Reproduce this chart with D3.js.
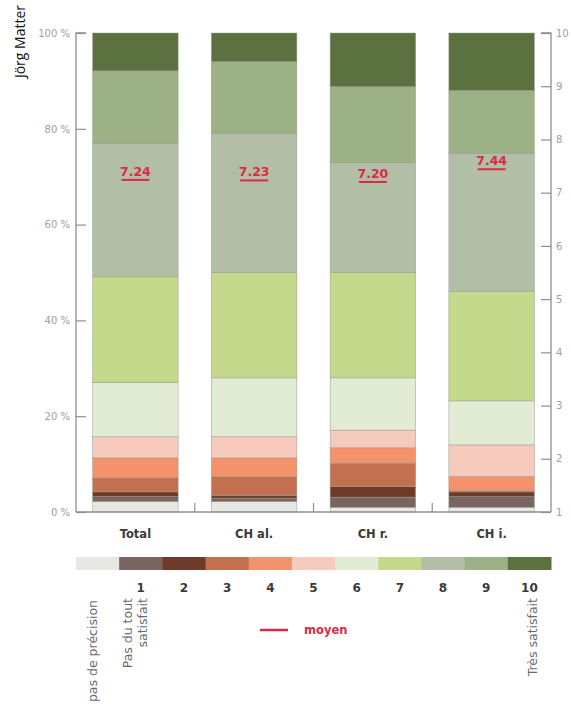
<!DOCTYPE html>
<html><head><meta charset="utf-8">
<script src="https://cdn.jsdelivr.net/npm/d3@7"></script>
<style>body{margin:0;background:#fff}svg{display:block}</style>
</head><body>
<svg id="c" width="571" height="704"></svg>
<script>
const categories = ["Total","CH al.","CH r.","CH i."];
const levels = ["pas de précision","1","2","3","4","5","6","7","8","9","10"];
const levelColors = ["#e7e7e4","#786460","#6e3b2b","#c2704f","#f3926b","#f6cbbd","#e2ecd4","#c4d98b","#b3bea7","#9db186","#5b7140"];
const valTotal = [2.2,1.0,1.0,2.9,4.2,4.4,11.4,22.0,27.9,15.1,7.9];
const valCHal  = [2.2,0.7,0.6,3.9,3.9,4.4,12.3,22.0,29.1,14.9,6.0];
const valCHr   = [1.0,2.1,2.2,4.9,3.2,3.7,10.9,22.0,22.9,15.9,11.2];
const valCHi   = [1.0,2.2,1.0,0.3,2.9,6.6,9.2,22.8,28.9,13.1,12.0];
const means = [7.24,7.23,7.20,7.44];
const pctTicks = [0,20,40,60,80,100];
const scoreTicks = [1,2,3,4,5,6,7,8,9,10];
const legendNumbers = ["1","2","3","4","5","6","7","8","9","10"];

const series = [valTotal,valCHal,valCHr,valCHi];
const svg = d3.select("#c");
const FONT = "'DejaVu Sans', sans-serif";

const x = d3.scaleBand().domain(categories).range([76,551]).paddingInner(0.28).paddingOuter(0.14);
const y = d3.scaleLinear().domain([0,100]).range([512,33]);
const y2 = d3.scaleLinear().domain([1,10]).range([512,33]);
const color = d3.scaleOrdinal().domain(levels).range(levelColors);

const rows = categories.map((c,i)=>{const r={cat:c}; levels.forEach((l,j)=>r[l]=series[i][j]); return r;});
const stack = d3.stack().keys(levels)(rows);

svg.append("g").selectAll("g").data(stack).join("g")
  .attr("fill", d=>color(d.key))
  .selectAll("rect").data(d=>d).join("rect")
  .attr("x", d=>x(d.data.cat))
  .attr("width", x.bandwidth())
  .attr("y", d=>y(d[1]))
  .attr("height", d=>Math.max(0,y(d[0])-y(d[1])))
  .attr("stroke","#9a9a8c").attr("stroke-width",0.5);

const axColor = "#8f8f8f";
const gl = svg.append("g").attr("transform","translate(76,0)")
  .call(d3.axisRight(y).tickValues(pctTicks).tickSize(10).tickFormat(d=>d+" %"));
gl.select(".domain").attr("stroke",axColor).attr("stroke-width",1.3).attr("d","M0,"+y(0)+"V"+y(100)+"H10");
gl.selectAll(".tick line").attr("stroke",axColor).attr("stroke-width",1.2);
gl.selectAll(".tick text").attr("x",-6).attr("text-anchor","end").attr("fill","#a0a0a0")
  .style("font-family",FONT).style("font-size","10px");

const gr = svg.append("g").attr("transform","translate(551,0)")
  .call(d3.axisLeft(y2).tickValues(scoreTicks).tickSize(10).tickFormat(d3.format("d")));
gr.select(".domain").attr("stroke",axColor).attr("stroke-width",1.3).attr("d","M0,"+y2(1)+"V"+y2(10)+"H-10");
gr.selectAll(".tick line").attr("stroke",axColor).attr("stroke-width",1.2);
gr.selectAll(".tick text").attr("x",5).attr("text-anchor","start").attr("fill","#a0a0a0")
  .style("font-family",FONT).style("font-size","10px");

svg.append("line").attr("x1",76).attr("x2",551).attr("y1",y(0)).attr("y2",y(0))
  .attr("stroke",axColor).attr("stroke-width",1.3);
const gaps = categories.slice(0,-1).map(c=>x(c)+x.bandwidth()+x.step()*x.paddingInner()/2);
svg.selectAll(".gap").data(gaps).join("line")
  .attr("x1",d=>d).attr("x2",d=>d).attr("y1",y(0)).attr("y2",y(0)-9)
  .attr("stroke",axColor).attr("stroke-width",1.2);

svg.selectAll(".cat").data(categories).join("text")
  .attr("x",d=>x(d)+x.bandwidth()/2).attr("y",538).attr("text-anchor","middle")
  .attr("fill","#3a3a3a").style("font-family",FONT).style("font-size","11.5px").style("font-weight","bold")
  .text(d=>d);

const red = "#dc2a46";
const mg = svg.selectAll(".mean").data(categories).join("g");
mg.append("line")
  .attr("x1",(d)=>x(d)+x.bandwidth()/2-14).attr("x2",(d)=>x(d)+x.bandwidth()/2+14)
  .attr("y1",(d,i)=>y2(means[i])).attr("y2",(d,i)=>y2(means[i]))
  .attr("stroke",red).attr("stroke-width",2);
mg.append("text")
  .attr("x",d=>x(d)+x.bandwidth()/2).attr("y",(d,i)=>y2(means[i])-4)
  .attr("text-anchor","middle").attr("fill",red)
  .style("font-family",FONT).style("font-size","12.5px").style("font-weight","bold")
  .text((d,i)=>d3.format(".2f")(means[i]));

const lx = d3.scaleBand().domain(levels).range([76,551]);
svg.append("g").selectAll("rect").data(levels).join("rect")
  .attr("x",d=>lx(d)).attr("width",lx.bandwidth()+0.5).attr("y",557).attr("height",13)
  .attr("fill",d=>color(d));
svg.selectAll(".lnum").data(legendNumbers).join("text")
  .attr("x",d=>lx(d)+lx.bandwidth()/2).attr("y",592).attr("text-anchor","middle")
  .attr("fill","#3a3a3a").style("font-family",FONT).style("font-size","12px").style("font-weight","bold")
  .text(d=>d);

function vtext(xp, yp, t){
  svg.append("text").attr("transform",`translate(${xp},${yp}) rotate(-90)`)
    .attr("text-anchor","end").attr("fill","#6a6a6a")
    .style("font-family",FONT).style("font-size","12.5px").text(t);
}
vtext(97, 600, "pas de précision");
vtext(132, 598, "Pas du tout");
vtext(147, 598, "satisfait");
vtext(537, 598, "Très satisfait");

svg.append("line").attr("x1",260).attr("x2",288).attr("y1",630).attr("y2",630)
  .attr("stroke",red).attr("stroke-width",2.5);
svg.append("text").attr("x",304).attr("y",634).attr("fill",red)
  .style("font-family",FONT).style("font-size","11.5px").style("font-weight","bold").text("moyen");

svg.append("text").attr("transform","translate(25,5) rotate(-90)")
  .attr("text-anchor","end").attr("fill","#111")
  .style("font-family","'Open Sans', sans-serif").style("font-size","14px").text("Jörg Matter");
</script>
</body></html>
